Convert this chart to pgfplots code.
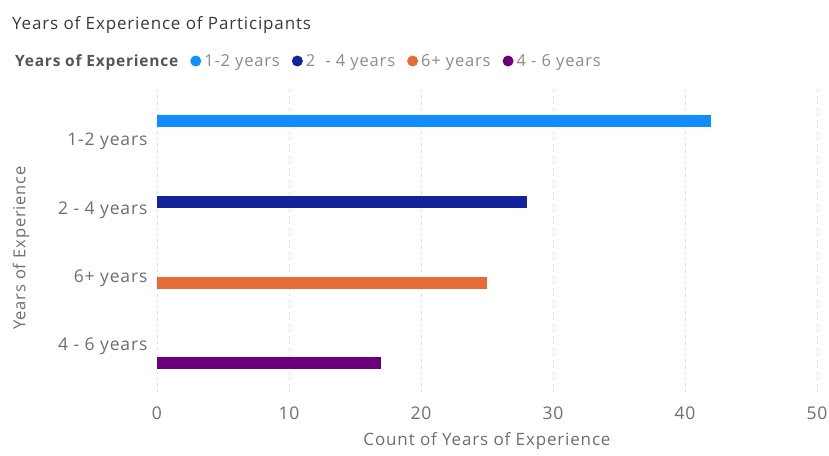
\documentclass[border=0pt]{standalone}
\usepackage{fontspec}
\setmainfont{Open Sans}[LetterSpace=5]
\usepackage{pgfplots}
\pgfplotsset{compat=1.18}
\definecolor{cA}{HTML}{118DFF}
\definecolor{cB}{HTML}{12239E}
\definecolor{cC}{HTML}{E66C37}
\definecolor{cD}{HTML}{6B007B}
\definecolor{titlec}{HTML}{3A3A3A}
\definecolor{tickc}{HTML}{6E6E6E}
\definecolor{legc}{HTML}{8A8A8A}
\definecolor{legt}{HTML}{555555}
\definecolor{gridc}{HTML}{D9D9D9}
\begin{document}
\begin{tikzpicture}[x=1pt,y=1pt]
\useasboundingbox (0,0) rectangle (829,455);
\node[anchor=west, inner sep=0pt, font=\fontsize{17}{20}\selectfont, text=titlec] at (12,430) {Years of Experience of Participants};
\node[rotate=90, anchor=center, inner sep=0pt, font=\fontsize{16.5}{19}\selectfont, text=tickc] at (21,207) {Years of Experience};
\begin{axis}[
  at={(157pt,60pt)}, anchor=south west,
  scale only axis, width=660pt, height=305pt,
  xmin=0, xmax=50, ymin=-0.76, ymax=3.72,
  y dir=reverse,
  xbar, bar width=12pt, bar shift=0pt,
  axis line style={draw=none},
  major tick length=0pt,
  xtick={0,10,20,30,40,50},
  ytick={0,1,2,3},
  yticklabels={1-2 years, 2 - 4 years, 6+ years, 4 - 6 years},
  /pgf/number format/assume math mode=true,
  tick label style={font=\fontsize{17.5}{19}\selectfont, text=tickc},
  xticklabel style={anchor=center, yshift=-18pt},
  yticklabel style={anchor=east, xshift=-6pt},
  xmajorgrids, grid style={gridc, line width=0.8pt, dash pattern=on 1.5pt off 4.5pt},
  xlabel={Count of Years of Experience},
  xlabel style={font=\fontsize{17}{19}\selectfont, text=tickc, at={(axis description cs:0.5,0)}, anchor=center, yshift=-46pt},
  legend columns=-1,
  legend style={at={(axis description cs:0,1)}, anchor=west, xshift=-145pt, yshift=29pt,
    draw=none, fill=none, inner sep=0pt, font=\fontsize{16.5}{18}\selectfont, text=legc,
    /tikz/every odd column/.append style={column sep=1pt},
    /tikz/every even column/.append style={column sep=10pt}},
  legend image code/.code={\fill[#1] (3pt,0pt) circle (5.5pt);},
]
\addlegendimage{empty legend}
\addlegendentry{\textcolor{legt}{\fontsize{15.5}{18}\selectfont\bfseries Years of Experience}}
\addplot[fill=cA, draw=none] coordinates {(42,-0.31)};
\addlegendentry{1-2 years}
\addplot[fill=cB, draw=none] coordinates {(28,0.88)};
\addlegendentry{2\ \ - 4 years}
\addplot[fill=cC, draw=none] coordinates {(25,2.07)};
\addlegendentry{6+ years}
\addplot[fill=cD, draw=none] coordinates {(17,3.25)};
\addlegendentry{4 - 6 years}
\end{axis}
\end{tikzpicture}
\end{document}
